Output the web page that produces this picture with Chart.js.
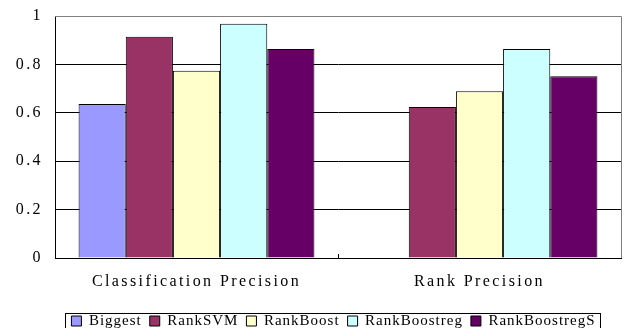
<!DOCTYPE html>
<html>
<head>
<meta charset="utf-8">
<script src="https://cdn.jsdelivr.net/npm/chart.js@4/dist/chart.umd.min.js"></script>
<style>
  html, body { margin: 0; padding: 0; background: #fff; }
  #wrap { width: 628px; height: 328px; }
</style>
</head>
<body>
<div id="wrap"><canvas id="c" width="628" height="328"></canvas></div>
<script>
// Precision of each ranking method, per evaluation measure
const categories = ['Classification Precision', 'Rank Precision'];
const biggest       = [0.636, null];
const rankSVM       = [0.914, 0.624];
const rankBoost     = [0.774, 0.689];
const rankBoostreg  = [0.968, 0.864];
const rankBoostregS = [0.864, 0.751];
const yTicks = [0, 0.2, 0.4, 0.6, 0.8, 1];

const FONT = "'Liberation Serif', 'DejaVu Serif', serif";
const FONT_SIZE = 16;
const LEGEND_FONT_SIZE = 15;
const LETTER_SPACING = '2.4px';
const LEGEND_LETTER_SPACING = '1px';

function series(label, data, color) {
  return {
    label, data,
    backgroundColor: color,
    borderColor: '#000',
    borderWidth: 1,
    borderSkipped: 'start',
    categoryPercentage: 5 / 6,
    barPercentage: 1
  };
}

// Widen the serif text a little (set before layout measures and before drawing)
const spacing = {
  id: 'spacing',
  beforeUpdate(chart) { chart.ctx.letterSpacing = LETTER_SPACING; },
  beforeLayout(chart) { chart.ctx.letterSpacing = LETTER_SPACING; },
  beforeDraw(chart) { chart.ctx.letterSpacing = LETTER_SPACING; },
  // the legend row sits a little right of the canvas centre
  afterLayout(chart) {
    if (chart.legend) { chart.legend.left += 23; chart.legend.right += 23; }
  }
};

// Gray frame along the top and right of the plot area
const frame = {
  id: 'frame',
  beforeDatasetsDraw(chart) {
    const { ctx, chartArea: a } = chart;
    ctx.save();
    ctx.strokeStyle = '#808080';
    ctx.lineWidth = 1;
    ctx.beginPath();
    ctx.moveTo(a.left, Math.round(a.top) + 0.5);
    ctx.lineTo(Math.round(a.right) + 0.5, Math.round(a.top) + 0.5);
    ctx.lineTo(Math.round(a.right) + 0.5, a.bottom);
    ctx.stroke();
    ctx.restore();
  }
};

// Outline box around the legend row
const legendBox = {
  id: 'legendBox',
  afterDraw(chart) {
    const boxes = chart.legend && chart.legend.legendHitBoxes;
    if (!boxes || !boxes.length) return;
    const left = Math.min(...boxes.map(b => b.left)) - 6;
    const right = Math.max(...boxes.map(b => b.left + b.width)) + 5;
    const top = Math.min(...boxes.map(b => b.top)) - 1;
    const ctx = chart.ctx;
    ctx.save();
    ctx.strokeStyle = '#000';
    ctx.lineWidth = 1;
    ctx.strokeRect(Math.round(left) + 0.5, Math.round(top) + 0.5,
                   Math.round(right - left), 40);
    ctx.restore();
  }
};

const chart = new Chart(document.getElementById('c'), {
  type: 'bar',
  data: {
    labels: categories,
    datasets: [
      series('Biggest', biggest, '#9999FF'),
      series('RankSVM', rankSVM, '#993366'),
      series('RankBoost', rankBoost, '#FFFFCC'),
      series('RankBoostreg', rankBoostreg, '#CCFFFF'),
      series('RankBoostregS', rankBoostregS, '#660066')
    ]
  },
  options: {
    responsive: false,
    animation: false,
    devicePixelRatio: 1,
    layout: { padding: { top: 16, right: 7, left: 0, bottom: -10.5 } },
    plugins: {
      tooltip: { enabled: false },
      legend: {
        position: 'bottom',
        labels: {
          font: { family: FONT, size: LEGEND_FONT_SIZE },
          color: '#000',
          boxWidth: 10,
          boxHeight: 10,
          padding: 8
        }
      }
    },
    scales: {
      x: {
        afterFit(s) { s.height = 47.5; },
        grid: {
          offset: true,
          drawOnChartArea: false,
          drawTicks: true,
          tickLength: -4,
          tickColor: '#000'
        },
        border: { color: '#000', width: 1 },
        ticks: {
          font: { family: FONT, size: FONT_SIZE },
          color: '#000',
          padding: 18,
          maxRotation: 0
        }
      },
      y: {
        min: 0,
        max: 1,
        afterFit(s) { s.width = 55; s.paddingTop = 0; s.paddingBottom = 0; },
        afterBuildTicks(s) { s.ticks = yTicks.map(v => ({ value: v })); },
        grid: {
          drawTicks: false,
          color: ctx => (ctx.tick && ctx.tick.value === 1 ? '#808080' : '#000'),
          lineWidth: 1
        },
        border: { color: '#000', width: 1 },
        ticks: {
          font: { family: FONT, size: FONT_SIZE },
          color: '#000',
          padding: 12,
          callback: v => String(v)
        }
      }
    }
  },
  plugins: [spacing, frame, legendBox]
});

// The legend row uses tighter letter spacing than the axis labels
if (chart.legend) {
  const lg = chart.legend;
  const withLegendSpacing = fn => function (...args) {
    const ctx = chart.ctx;
    const prev = ctx.letterSpacing;
    ctx.letterSpacing = LEGEND_LETTER_SPACING;
    try { return fn.apply(this, args); } finally { ctx.letterSpacing = prev; }
  };
  lg.fit = withLegendSpacing(lg.fit);
  lg.draw = withLegendSpacing(lg.draw);
  chart.update();
}
</script>
</body>
</html>
